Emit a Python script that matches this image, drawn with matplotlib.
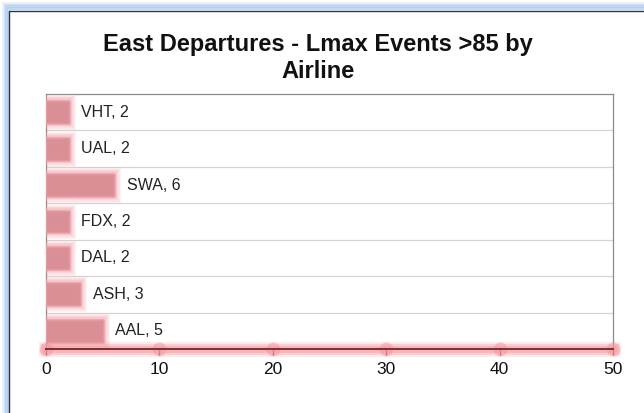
import matplotlib.pyplot as plt
import matplotlib.patheffects as pe
from matplotlib.patches import Rectangle

airlines = ["AAL", "ASH", "DAL", "FDX", "SWA", "UAL", "VHT"]
events = [5, 3, 2, 2, 6, 2, 2]
x_ticks = [0, 10, 20, 30, 40, 50]

plt.rcParams['font.family'] = ['Liberation Sans', 'DejaVu Sans']

fig = plt.figure(figsize=(6.44, 4.13), dpi=100)
W, H = 644, 413

# window-like frame: blue glow band and dark inner edge
for i, a in enumerate([0.25, 0.4, 0.55, 0.7]):
    off = 3 + i * 1.5
    fig.patches.append(Rectangle((off / W, -0.1), 1.2, (H - off) / H + 0.1,
                                 transform=fig.transFigure, facecolor='none',
                                 edgecolor='#a9c8f0', alpha=a, linewidth=2.2,
                                 zorder=-2))
fig.patches.append(Rectangle((8.5 / W, -0.1), 1.2, (H - 10.5) / H + 0.1,
                             transform=fig.transFigure, facecolor='white',
                             edgecolor='#2a3340', linewidth=1.0, zorder=-1))

ax = fig.add_axes([46 / W, 1 - 349 / H, (613 - 46) / W, (349 - 94) / H])
ax.set_zorder(2)
ax.set_facecolor('white')

y = list(range(len(airlines)))
# soft glow around bars
glow = [pe.withStroke(linewidth=w, foreground='#f4a6ae', alpha=a)
        for w, a in [(10, 0.12), (8, 0.18), (6, 0.25), (4, 0.35)]] + [pe.Normal()]
bars = ax.barh(y, events, height=0.6, color='#d98f95', edgecolor='#e49aa1',
               linewidth=1.0, zorder=3)
for b in bars:
    b.set_path_effects(glow)

for yi, name, v in zip(y, airlines, events):
    ax.annotate(f"{name}, {v}", (v, yi), xytext=(9, 0), textcoords='offset points',
                va='center', ha='left', fontsize=11.5, color='#222222', zorder=4)

ax.set_xlim(0, 50)
ax.set_ylim(-0.5, len(airlines) - 0.5)
ax.set_xticks(x_ticks)
ax.set_yticks([])
for b in range(len(airlines) - 1):
    ax.axhline(b + 0.5, color='#d4d4d4', linewidth=0.9, zorder=1)

for s in ['top', 'right', 'left']:
    ax.spines[s].set_color('#8a8a8a')
    ax.spines[s].set_linewidth(0.9)
ax.spines['bottom'].set_color('#7a3434')
ax.spines['bottom'].set_linewidth(1.4)
ax.spines['bottom'].set_path_effects(
    [pe.withStroke(linewidth=w, foreground='#f7939c', alpha=a)
     for w, a in [(11, 0.18), (8, 0.3), (5, 0.45)]] + [pe.Normal()])
ax.spines['bottom'].set_zorder(5)
ax.plot(x_ticks, [-0.5] * len(x_ticks), 'o', markersize=10, color='#f48c96',
        alpha=0.45, clip_on=False, zorder=4, markeredgewidth=0)
ax.tick_params(axis='x', length=4, width=1, color='#6a3a3a', labelsize=12.5,
               labelcolor='#111111', pad=5)

fig.text(318 / W, 1 - 58 / H, "East Departures - Lmax Events >85 by\nAirline",
         ha='center', va='center', fontsize=17, fontweight='bold',
         linespacing=1.2, color='#111111')

fig.savefig('out.png', dpi=100)
